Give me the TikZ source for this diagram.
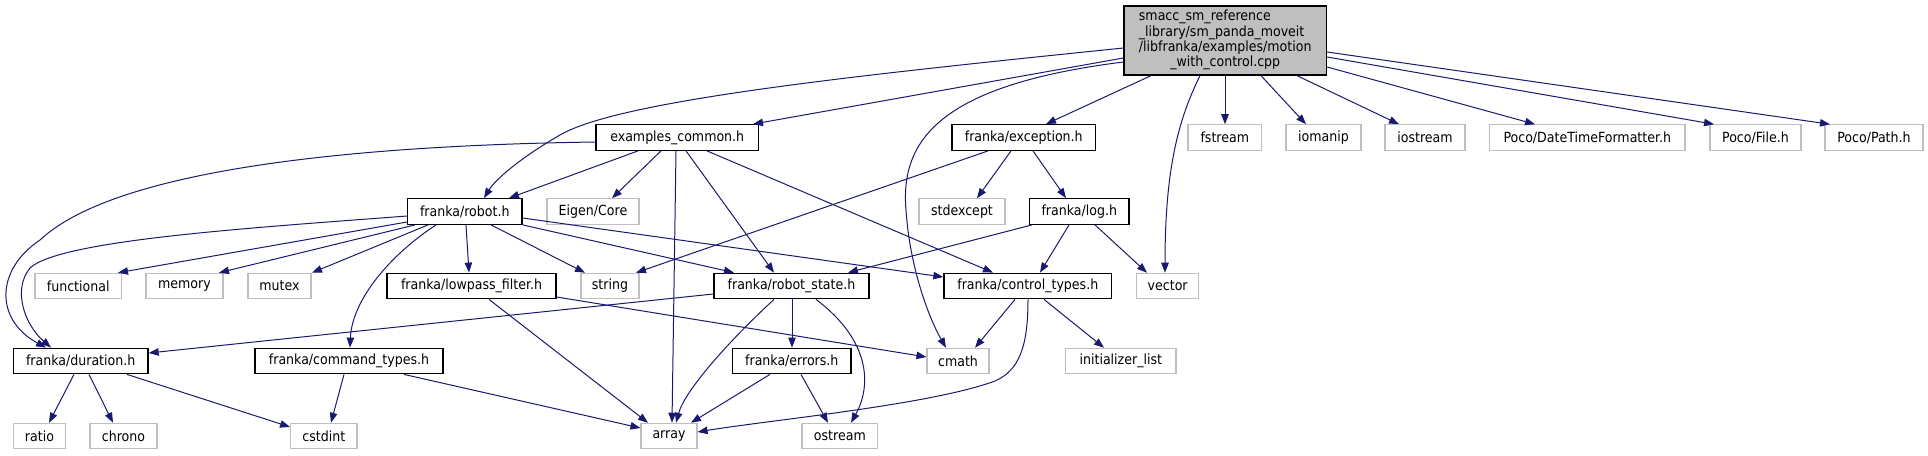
\documentclass[tikz,border=0pt]{standalone}
\usepackage{fontspec}
\newfontfamily\graphfont{DejaVu Sans Condensed}
\usepackage{tikz}
\usetikzlibrary{arrows.meta}
\definecolor{edgeblue}{HTML}{191970}
\definecolor{extgray}{HTML}{BFBFBF}
\definecolor{rootgray}{HTML}{BFBFBF}

\begin{document}
\begin{tikzpicture}[x=0.75pt, y=-0.75pt,
    hfile/.style={draw=black, line width=1pt, fill=white, inner sep=0pt,
                  minimum height=19.1pt, font=\graphfont\fontsize{10.5}{11.25}\selectfont},
    ext/.style={hfile, draw=extgray, line width=0.8pt},
    wd/.style={minimum width={#1*0.75pt}},
    dep/.style={edgeblue, line width=0.75pt, -{Triangle[length=7.5pt, width=5.6pt]}}]
  \useasboundingbox (0,0) rectangle (1928,455);
  % ---- the source file ----
  \node[hfile, fill=rootgray, wd=202.5, minimum height=51.75pt] (root) at (1225.25,40.5)
       {\begin{tabular}{@{}l@{}}smacc\_sm\_reference\\\_library/sm\_panda\_moveit\\
        /libfranka/examples/motion\\\multicolumn{1}{@{}c@{}}{\_with\_control.cpp}\end{tabular}};
  % ---- row 2 ----
  \node[hfile, wd=162.5] (exam) at (677.25,137.5) {examples\_common.h};
  \node[hfile, wd=143.5] (exc) at (1023.75,137.5) {franka/exception.h};
  \node[ext, wd=73.6] (fstream) at (1224.8,137.5) {fstream};
  \node[ext, wd=75] (iomanip) at (1323.5,137.5) {iomanip};
  \node[ext, wd=80] (iostream) at (1425,137.5) {iostream};
  \node[ext, wd=195.5] (dtf) at (1587.25,137.5) {Poco/DateTimeFormatter.h};
  \node[ext, wd=91] (file) at (1755.5,137.5) {Poco/File.h};
  \node[ext, wd=98] (path) at (1874,137.5) {Poco/Path.h};
  % ---- row 3 ----
  \node[hfile, wd=114.4] (robot) at (464.8,211.5) {franka/robot.h};
  \node[ext, wd=92] (eigen) at (593,211.5) {Eigen/Core};
  \node[ext, wd=86] (stdexcept) at (962,211.5) {stdexcept};
  \node[hfile, wd=99.5] (log) at (1079.25,211.5) {franka/log.h};
  % ---- row 4 ----
  \node[ext, wd=86.4] (functional) at (78.2,286) {functional};
  \node[ext, wd=77] (memory) at (184.5,286) {memory};
  \node[ext, wd=63] (mutex) at (279.5,286) {mutex};
  \node[hfile, wd=169] (lowpass) at (471.5,286) {franka/lowpass\_filter.h};
  \node[ext, wd=58] (string) at (610,286) {string};
  \node[hfile, wd=155] (rstate) at (791.5,286) {franka/robot\_state.h};
  \node[hfile, wd=167.6] (ctrl) at (1027.8,286) {franka/control\_types.h};
  \node[ext, wd=62] (vector) at (1167.65,286) {vector};
  % ---- row 5 ----
  \node[hfile, wd=134.6] (dur) at (80.7,361) {franka/duration.h};
  \node[hfile, wd=188] (cmd) at (349,361) {franka/command\_types.h};
  \node[hfile, wd=118.4] (errors) at (791.8,361) {franka/errors.h};
  \node[ext, wd=62] (cmath) at (958,361) {cmath};
  \node[ext, wd=110.4] (initl) at (1120.8,361) {initializer\_list};
  % ---- row 6 ----
  \node[ext, wd=52] (ratio) at (39.5,436) {ratio};
  \node[ext, wd=67] (chrono) at (123.5,436) {chrono};
  \node[ext, wd=66.4] (cstdint) at (323.8,436) {cstdint};
  \node[ext, wd=56] (array) at (669,436) {array};
  \node[ext, wd=75.7] (ostream) at (839.85,436) {ostream};

  % ---- includes of the source file ----
  \draw[dep] (root.west |- 0,48) .. controls (860,75) and (620,100) .. (560,135)
             .. controls (520,158) and (495,180) .. (robot.north -| 484,0);
  \draw[dep] (root.west |- 0,58) -- (exam.north -| 753,0);
  \draw[dep] (root.west |- 0,62) .. controls (940,85) and (900,140) .. (906,210)
             .. controls (910,270) and (930,320) .. (cmath.north -| 946,0);
  \draw[dep] (root.south -| 1151,0) -- (exc.north -| 1046,0);
  \draw[dep] (root.south -| 1200,0) .. controls (1178,120) and (1165,170) .. (vector.north -| 1165,0);
  \draw[dep] (root.south -| 1225,0) -- (fstream.north -| 1225,0);
  \draw[dep] (root.south -| 1261,0) -- (iomanip.north -| 1306,0);
  \draw[dep] (root.south -| 1297,0) -- (iostream.north -| 1399,0);
  \draw[dep] (root.east |- 0,67) -- (dtf.north -| 1535,0);
  \draw[dep] (root.east |- 0,57) -- (file.north -| 1714,0);
  \draw[dep] (root.east |- 0,52) -- (path.north -| 1830,0);
  % ---- examples_common.h ----
  \draw[dep] (exam.west |- 0,142) .. controls (380,145) and (120,165) .. (40,240)
             .. controls (-5,270) and (-5,320) .. (dur.north -| 46,0);
  \draw[dep] (exam.south -| 638,0) -- (robot.north -| 509,0);
  \draw[dep] (exam.south -| 661,0) -- (eigen.north -| 612,0);
  \draw[dep] (exam.south -| 676,0) -- (array.north -| 672,0);
  \draw[dep] (exam.south -| 686,0) -- (rstate.north -| 774,0);
  \draw[dep] (exam.south -| 707,0) -- (ctrl.north -| 993,0);
  % ---- franka/exception.h and franka/log.h ----
  \draw[dep] (exc.south -| 988,0) -- (string.north -| 636,0);
  \draw[dep] (exc.south -| 1011,0) -- (stdexcept.north -| 977,0);
  \draw[dep] (exc.south -| 1033,0) -- (log.north -| 1066,0);
  \draw[dep] (log.south -| 1032,0) -- (rstate.north -| 848,0);
  \draw[dep] (log.south -| 1069,0) -- (ctrl.north -| 1040,0);
  \draw[dep] (log.south -| 1095,0) -- (vector.north -| 1147,0);
  % ---- franka/robot.h ----
  \draw[dep] (robot.west |- 0,216) .. controls (250,228) and (60,240) .. (30,268)
             .. controls (12,290) and (25,325) .. (dur.north -| 51,0);
  \draw[dep] (robot.west |- 0,222) -- (functional.north -| 118,0);
  \draw[dep] (robot.south -| 415,0) -- (memory.north -| 219,0);
  \draw[dep] (robot.south -| 428,0) -- (mutex.north -| 312,0);
  \draw[dep] (robot.south -| 436,0) .. controls (390,255) and (352,300) .. (cmd.north -| 350,0);
  \draw[dep] (robot.south -| 466,0) -- (lowpass.north -| 469,0);
  \draw[dep] (robot.south -| 491,0) -- (string.north -| 585,0);
  \draw[dep] (robot.south east) -- (rstate.north -| 734,0);
  \draw[dep] (robot.east |- 0,218) -- (ctrl.west |- 0,277);
  % ---- second level headers ----
  \draw[dep] (lowpass.south -| 489,0) -- (array.north -| 648,0);
  \draw[dep] (lowpass.east |- 0,297) -- (cmath.west |- 0,357);
  \draw[dep] (rstate.west |- 0,294) -- (dur.east |- 0,353);
  \draw[dep] (rstate.south -| 774,0) .. controls (730,340) and (685,390) .. (array.north -| 676,0);
  \draw[dep] (rstate.south -| 792,0) -- (errors.north -| 792,0);
  \draw[dep] (rstate.south -| 816,0) .. controls (870,340) and (872,385) .. (ostream.north -| 851,0);
  \draw[dep] (ctrl.south -| 1015,0) -- (cmath.north -| 975,0);
  \draw[dep] (ctrl.south -| 1044,0) -- (initl.north -| 1104,0);
  \draw[dep] (ctrl.south -| 1028,0) .. controls (1028,345) and (1020,370) .. (995,381)
             .. controls (930,405) and (770,420) .. (array.east |- 0,432);
  \draw[dep] (errors.south -| 770,0) -- (array.north -| 691,0);
  \draw[dep] (errors.south -| 801,0) -- (ostream.north -| 828,0);
  \draw[dep] (dur.south -| 74,0) -- (ratio.north -| 49,0);
  \draw[dep] (dur.south -| 89,0) -- (chrono.north -| 113,0);
  \draw[dep] (dur.south -| 127,0) -- (cstdint.west |- 0,427);
  \draw[dep] (cmd.south -| 344,0) -- (cstdint.north -| 331,0);
  \draw[dep] (cmd.south -| 404,0) -- (array.west |- 0,428);
\end{tikzpicture}
\end{document}
